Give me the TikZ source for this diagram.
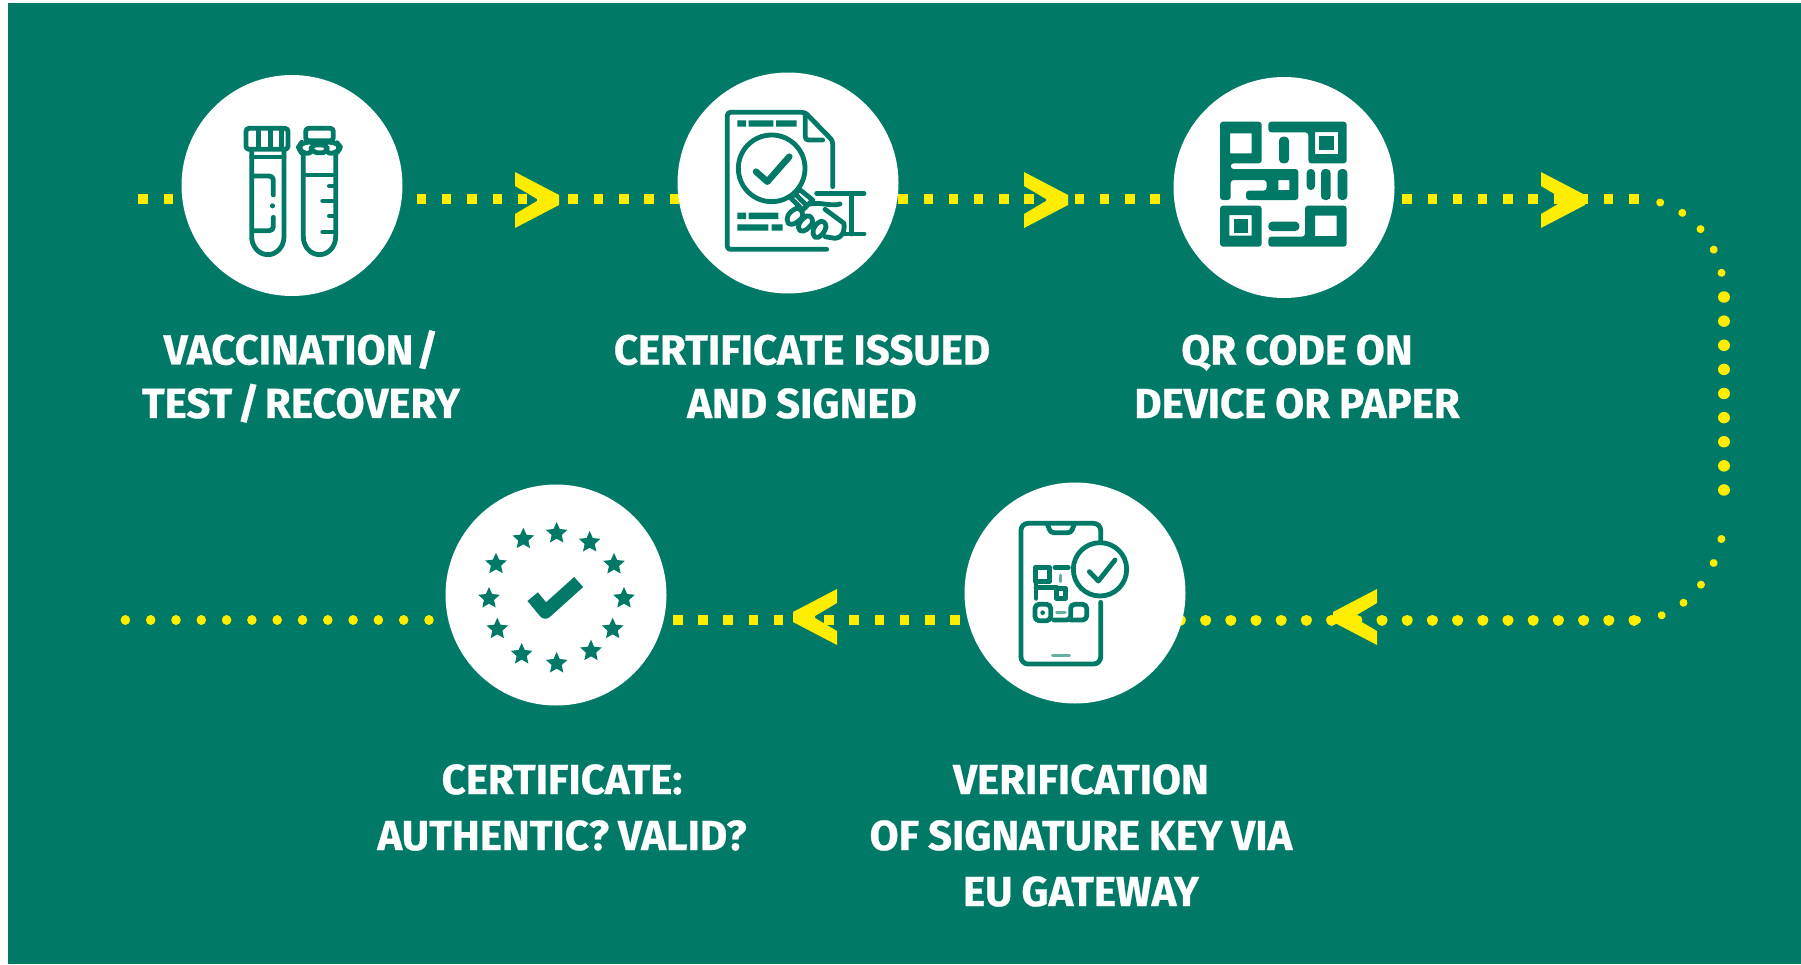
\documentclass[tikz,border=0pt]{standalone}
\usepackage{fontspec}
\newfontfamily\lab[BoldFont=* Bold,BoldFeatures={FakeBold=0.6},WordSpace=0.9]{Fira Sans}
\definecolor{eugreen}{HTML}{007A66}
\definecolor{euyellow}{HTML}{FFED00}
\tikzset{
  circ/.style={circle,fill=white,draw=none,minimum size=221pt,inner sep=0pt},
  lbl/.style={text=white,align=center,inner sep=0pt,anchor=north,font=\lab\bfseries\fontsize{42}{53.5}\selectfont},
  lblw/.style={text=white,align=center,inner sep=0pt,anchor=north,font=\lab\bfseries\fontsize{42}{56}\selectfont},
  sqdots/.style={euyellow,line width=10pt},
  rddots/.style={euyellow,line width=11.5pt,line cap=round},
  smdots/.style={euyellow,line width=8pt,line cap=round},
  ic/.style={draw=eugreen,line width=4.8pt,line cap=round,line join=round,fill=none},
  icfine/.style={draw=eugreen,line width=3pt,line cap=round,line join=round,fill=none},
  icb/.style={fill=eugreen,even odd rule},
  zoomed/.style={x=0.33333pt,y=-0.33333pt},
  chev/.pic={\fill[euyellow] (0,-28)--(44,-5)--(44,5)--(0,28)--(0,14)--(22,1)--(22,-1)--(0,-14)--cycle;},
  vehc/.pic={\fill[euyellow] (0,-28)--(-44,-5)--(-44,5)--(0,28)--(0,14)--(-22,1)--(-22,-1)--(0,-14)--cycle;},
  estar/.pic={\fill[eugreen] (-90:34)--(-54:16)--(-18:34)--(18:16)--(54:34)--(90:16)--(126:34)--(162:16)--(198:34)--(234:16)--cycle;}
}
\begin{document}
\begin{tikzpicture}[x=1pt,y=-1pt]
\useasboundingbox (0,0) rectangle (1801,964);
\fill[white] (0,0) rectangle (1801,964);
\fill[eugreen] (7.5,3) rectangle (1801,964);
% named anchors
\coordinate (s) at (138.3,199);
\coordinate (b) at (1639,620);
\coordinate (ta) at (1636,199);
\coordinate (ra) at (1724,297);
\coordinate (rb) at (1724,514);
\coordinate (tb) at (1636,620);
\coordinate (e) at (115,620);
\coordinate (c1) at (292,185.5);
\coordinate (c2) at (788,183);
\coordinate (c3) at (1284,187.5);
\coordinate (c4) at (1075,593);
\coordinate (c5) at (556,595);
% connectors
\draw[sqdots,dash pattern=on 9.5pt off 15.8pt] (s) -- (c1 |- s);
\draw[sqdots,dash pattern=on 9.5pt off 15.8pt,dash phase=1.9pt] (c1 |- s) -- (c2 |- s);
\draw[sqdots,dash pattern=on 9.5pt off 15.7pt,dash phase=15.7pt] (c2 |- s) -- (c3 |- s);
\draw[sqdots,dash pattern=on 9.5pt off 15.7pt,dash phase=7.7pt] (c3 |- s) -- (1639,199);
\draw[smdots,dash pattern=on 0.01pt off 24.5pt,dash phase=0.02pt] (ta) .. controls (1685,199) and (1724,240) .. (ra);
\draw[rddots,dash pattern=on 0.01pt off 24.11pt] (ra) -- (rb);
\draw[smdots,dash pattern=on 0.01pt off 25.2pt,dash phase=0.02pt] (rb) .. controls (1724,570) and (1685,620) .. (tb);
\draw[rddots,line width=11pt,dash pattern=on 0.01pt off 25.19pt,dash phase=20.2pt] (b) -- (c4 |- b);
\draw[sqdots,dash pattern=on 9.5pt off 15.7pt,dash phase=10.7pt] (c4 |- b) -- (c5 |- b);
\draw[smdots,line width=9.5pt,dash pattern=on 0.01pt off 25.29pt,dash phase=24.8pt] (c5 |- b) -- (e);
% chevrons
\pic at (515,200) {chev};
\pic at (1024,200) {chev};
\pic at (1541,200) {chev};
\pic at (1377,617) {vehc};
\pic at (837,617) {vehc};
% circles
\node[circ] (n1) at (c1) {};
\node[circ] (n2) at (c2) {};
\node[circ] (n3) at (c3) {};
\node[circ] (n4) at (c4) {};
\node[circ] (n5) at (c5) {};
% icon 1: tubes
\begin{scope}[shift={(160,60)},zoomed]
  \draw[ic,rounded corners=3pt] (258,205) rectangle (384,268);
  \draw[ic,line cap=butt] (296,205)--(296,268) (331,205)--(331,268) (365,205)--(365,268);
  \draw[ic] (275,268) -- (275,530) arc[start angle=180,end angle=0,x radius=48.5,y radius=54] -- (372,268);
  \draw[ic] (275,291) -- (372,291);
  \draw[ic,rounded corners=4pt] (280,348) -- (340,348) -- (340,405);
  \draw[ic] (338,437) -- (338,438);
  \draw[ic,rounded corners=4pt] (340,472) -- (340,512) -- (280,512);
  \draw[ic,rounded corners=3pt] (437,205) rectangle (520,242);
  \draw[ic,rounded corners=6pt] (425,247) -- (415,262) -- (425,280) -- (460,280) -- (450,255) -- (505,255) -- (495,280) -- (530,280) -- (542,262) -- (530,247) -- cycle;
  \draw[ic] (458,272) -- (470,278) -- (490,278) -- (500,272);
  \draw[ic] (430,280) -- (430,530) arc[start angle=180,end angle=0,x radius=48.5,y radius=54] -- (527,280);
  \draw[ic] (430,345) -- (527,345);
  \draw[ic] (508,378) -- (527,378) (488,423) -- (527,423) (508,468) -- (527,468) (488,516) -- (527,516);
\end{scope}
% icon 2: certificate
\begin{scope}[shift={(660,60)},zoomed]
  \draw[ic,rounded corners=3pt] (518,380) -- (518,242) -- (435,157) -- (202,157) -- (202,568) -- (500,568);
  \draw[ic,rounded corners=3pt] (436,160) -- (436,240) -- (488,240);
  \fill[eugreen] (232,181) rectangle (258,200) (266,181) rectangle (340,200) (348,181) rectangle (410,200);
  \fill[eugreen] (232,458) rectangle (258,477) (266,458) rectangle (355,477) (232,493) rectangle (325,512) (335,493) rectangle (368,512);
  \draw[ic] (335,325) circle[radius=100];
  \draw[ic,line width=6.5pt] (288,335) -- (322,365) -- (388,290);
  \draw[ic] (418,388) -- (392,414) -- (428,450) -- (458,420) -- cycle (405,401) -- (441,437);
  \draw[ic] (470,400) -- (612,400) (575,400) -- (575,522) (552,522) -- (612,522);
  \draw[ic,fill=white] (410,445) .. controls (385,455) and (375,475) .. (385,490) .. controls (395,498) and (410,490) .. (425,475) .. controls (432,460) and (425,445) .. (410,445) -- cycle;
  \draw[ic,fill=white] (440,468) .. controls (420,480) and (408,500) .. (420,512) .. controls (432,520) and (452,500) .. (458,488) .. controls (458,472) and (450,466) .. (440,468) -- cycle;
  \draw[ic,fill=white] (480,485) .. controls (460,495) and (452,520) .. (465,532) .. controls (480,538) and (495,515) .. (498,502) .. controls (498,488) and (490,482) .. (480,485) -- cycle;
  \draw[ic] (452,432) .. controls (480,425) and (510,440) .. (540,432);
  \draw[ic] (495,448) -- (552,490) .. controls (555,515) and (545,535) .. (525,535) -- (495,530);
\end{scope}
% icon 3: QR code
\begin{scope}[shift={(1160,70)},zoomed]
  \fill[icb,rounded corners=3pt] (180,155) -- (305,155) -- (305,280) -- (212,280) -- (212,297) -- (415,297) -- (415,390) -- (258,390) -- (258,362) -- (320,362) -- (320,330) -- (212,330) -- (212,390) -- (180,390) -- cycle
     [sharp corners] (210,190) -- (275,190) -- (275,250) -- (210,250) -- cycle
     (355,330) -- (388,330) -- (388,360) -- (355,360) -- cycle;
  \fill[icb,rounded corners=3pt] (325,155) -- (560,155) -- (560,280) -- (445,280) -- (445,187) -- (325,187) -- cycle
     [sharp corners] (465,186) -- (534,186) -- (534,252) -- (465,252) -- cycle;
  \fill[eugreen] (478,198) rectangle (522,240);
  \fill[eugreen,rounded corners=4pt] (357,200) rectangle (387,280) (440,297) rectangle (465,360) (483,297) rectangle (512,390) (533,297) rectangle (562,390);
  \fill[icb,rounded corners=3pt] (180,407) rectangle (305,530) [sharp corners] (208,435) rectangle (275,497);
  \fill[eugreen] (222,448) rectangle (265,488);
  \fill[eugreen,rounded corners=4pt] (325,455) rectangle (418,483);
  \fill[icb,rounded corners=3pt] (435,407) -- (560,407) -- (560,530) -- (325,530) -- (325,500) -- (435,500) -- cycle
     [sharp corners] (465,437) -- (530,437) -- (530,498) -- (465,498) -- cycle;
\end{scope}
% icon 4: phone
\begin{scope}[shift={(950,480)},zoomed]
  \draw[ic,rounded corners=7pt] (452,188) -- (452,130) -- (213,130) -- (213,552) -- (452,552) -- (452,367);
  \draw[ic,rounded corners=3pt] (292,132) -- (302,158) -- (363,158) -- (373,132);
  \draw[ic] (450,268) circle[radius=80];
  \draw[ic] (418,275) -- (445,303) -- (495,240);
  \draw[icfine,draw=eugreen!60] (308,527) -- (358,527);
  \draw[ic] (256,262) rectangle (298,305);
  \draw[ic] (258,305) -- (258,355);
  \draw[ic] (315,263) -- (355,263);
  \draw[icfine,draw=eugreen!60] (332,285) -- (332,305);
  \draw[ic] (258,322) -- (320,322) (320,325) rectangle (347,355);
  \draw[ic,rounded corners=4pt] (255,373) rectangle (302,422);
  \fill[eugreen] (278,398) circle[radius=7];
  \draw[ic,rounded corners=4pt] (312,420) -- (362,420) -- (362,373) -- (410,373) -- (410,420) -- (362,420);
  \draw[icfine,draw=eugreen!60] (320,397) -- (345,397);
\end{scope}
% icon 5: stars and check
\begin{scope}[shift={(440,480)},zoomed]
  \foreach \px/\py in {350/160,449/187,522/253,552/355,518/447,453/513,350/550,245/523,172/447,147/355,168/252,250/177}
    \pic at (\px,\py) {estar};
  \draw[eugreen,line width=13.5pt,line join=round] (278,350) -- (316,396) -- (416,306);
\end{scope}
% labels
\node[lbl] (l1) at (301,330) {VACCINATION\kern-6pt{} /\\TEST\kern-3.5pt{} /\kern-3.5pt{} RECOVERY};
\node[lbl] (l2) at (802,334.5) {CERTIFICATE ISSUED\\AND SIGNED};
\node[lbl] (l3) at (1297,334.5) {QR CODE ON\\DEVICE OR PAPER};
\node[lblw] (l4) at (562,764) {CERTIFICATE:\\AUTHENTIC? VALID?};
\node[lblw] (l5) at (1081,764) {VERIFICATION\\OF SIGNATURE KEY VIA\\EU GATEWAY};
\end{tikzpicture}
\end{document}
